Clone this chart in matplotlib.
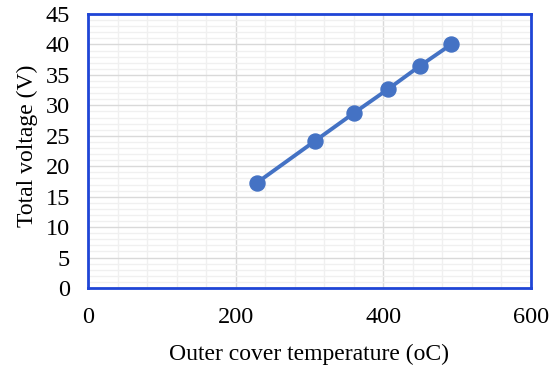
import matplotlib
matplotlib.use("Agg")
import matplotlib.pyplot as plt
from matplotlib.ticker import MultipleLocator

# data
temp_c = [229, 307, 361, 407, 450, 492]
voltage = [17.3, 24.1, 28.8, 32.7, 36.5, 40.0]

x_ticks = [0, 200, 400, 600]
y_ticks = list(range(0, 50, 5))

plt.rcParams['font.family'] = ['Liberation Serif', 'DejaVu Serif']

fig = plt.figure(figsize=(5.57, 3.69), dpi=100)
ax = fig.add_axes([0.158, 0.2195, 0.795, 0.7425])

ax.plot(temp_c, voltage, color='#4472C4', linewidth=2.8, marker='o',
        markersize=10.8, zorder=3)

ax.set_xlim(0, 600)
ax.set_ylim(0, 45)
ax.set_xticks(x_ticks)
ax.set_yticks(y_ticks)
ax.xaxis.set_minor_locator(MultipleLocator(40))
ax.yaxis.set_minor_locator(MultipleLocator(1))

ax.grid(which='minor', color='#F0F0F0', linewidth=1.0, zorder=0)
ax.grid(which='major', color='#D9D9D9', linewidth=1.0, zorder=1)
ax.set_axisbelow(True)

ax.tick_params(which='both', length=0, labelsize=17.5, colors='black')
ax.tick_params(axis='x', pad=14)
ax.tick_params(axis='y', pad=13)

for side in ax.spines.values():
    side.set_color('#1F45D6')
    side.set_linewidth(2.0)

ax.set_xlabel('Outer cover temperature (oC)', fontsize=17, labelpad=11)
ax.set_ylabel('Total voltage (V)', fontsize=17, labelpad=4)
ax.yaxis.set_label_coords(-0.112, 0.518)

fig.savefig('out.png', dpi=100)
